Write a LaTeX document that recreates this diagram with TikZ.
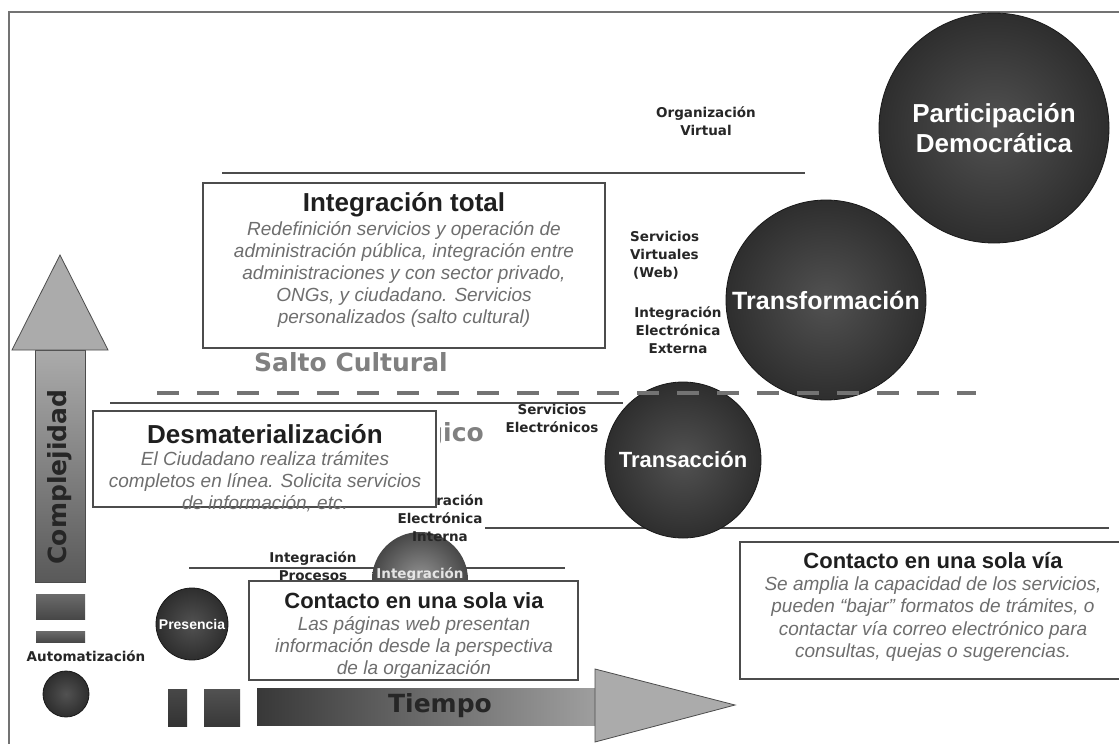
\documentclass[tikz,border=0pt]{standalone}
\usepackage{fontspec}
\setmainfont{Liberation Sans}
\newfontfamily\verd{DejaVu Sans}

\tikzset{
  frameline/.style={draw=black!55, line width=1.8pt},
  hline/.style={draw=black!70, line width=1.3pt},
  cutline/.style={draw=black!55, line width=4pt, dash pattern=on 22pt off 18pt},
  panel/.style={draw=black!70, fill=white, line width=1.4pt, inner sep=0pt},
  ttl/.style={font=\bfseries\fontsize{26}{30}\selectfont, text=black!88, inner sep=0pt},
  bodytxt/.style={font=\itshape\fontsize{19}{22}\selectfont, text=black!57, align=center, inner sep=0pt},
  lbl/.style={font=\verd\bfseries\fontsize{13.5}{18}\selectfont, text=black!85, align=center, inner sep=0pt},
  bigtxt/.style={font=\verd\bfseries\fontsize{25}{30}\selectfont, inner sep=0pt},
  disc/.style={circle, inner sep=0pt, draw=black!90, line width=0.8pt,
               inner color=black!68, outer color=black!82,
               text=white, align=center},
}

\begin{document}
\begin{tikzpicture}[x=1pt, y=-1pt]
  \useasboundingbox (0,0) rectangle (1119,744);
  \fill[white] (0,0) rectangle (1119,744);

  % frame
  \draw[frameline] (9,744) -- (9,12) -- (1119,12);

  % level lines
  \draw[hline] (222,173) -- (805,173);
  \draw[hline] (110,403) -- (623,403);
  \draw[hline] (485,528) -- (1109,528);
  \draw[hline] (189,568) -- (565,568);

  % stage labels
  \node[bigtxt, text=black!50] (saltocult) at (351,362) {Salto Cultural};
  \begin{scope}
    \clip (440,410) rectangle (500,460);
    \node[bigtxt, text=black!50, anchor=base east] (saltotec) at (484,441) {gico};
  \end{scope}
  \node[lbl] (orgvirt) at (706,121) {Organización\\Virtual};
  \node[lbl, align=left, anchor=west] (servvirt) at (630,255) {Servicios\\Virtuales\\\hspace{3pt}(Web)};
  \node[lbl] (intext) at (678,330) {Integración\\Electrónica\\Externa};
  \node[lbl] (servelec) at (552,418) {Servicios\\Electrónicos};
  \node[lbl] (intproc) at (313,566) {Integración\\Procesos};
  \node[lbl] (automat) at (86,656) {Automatización};

  % stages
  \node[disc, minimum size=230pt, font=\bfseries\fontsize{26}{30}\selectfont] (partic) at (994,128) {Participación\\Democrática};
  \node[disc, minimum size=200pt, font=\bfseries\fontsize{25}{30}\selectfont] (transf) at (826,300) {Transformación};
  \node[disc, minimum size=156pt, font=\bfseries\fontsize{22}{26}\selectfont] (transac) at (683,460) {Transacción};
  \node[circle, minimum size=96pt, inner color=black!42, outer color=black!72] (intsph) at (420,580) {};
  \node[lbl, text=black!10] (intsphlbl) at (420,575) {Integración};
  \node[lbl] (intint) at (440,518) {Integración\\Electrónica\\Interna};
  \node[disc, minimum size=72pt, font=\bfseries\fontsize{14}{16}\selectfont] (presen) at (192,624) {Presencia};
  \node[disc, minimum size=46pt] (autdot) at (66,694) {};

  % boxes
  \node[panel, minimum width=402pt, minimum height=165pt] (inttot) at (404,265.5) {};
  \node[ttl] (inttotttl) at (404,205) {Integración total};
  \node[bodytxt] (inttotbody) at (404,274) {Redefinición servicios y operación de\\
    administración pública, integración entre\\administraciones y con sector privado,\\
    ONGs, y ciudadano. Servicios\\personalizados (salto cultural)};

  \node[panel, minimum width=343pt, minimum height=96pt] (desmat) at (264.5,459) {};
  \node[ttl] (desmatttl) at (265,434) {Desmaterialización};
  \node[bodytxt] (desmatbody) at (265,482) {El Ciudadano realiza trámites\\
    completos en línea. Solicita servicios\\de información, etc.};

  \node[panel, minimum width=329pt, minimum height=99pt] (contizq) at (413.5,630.5) {};
  \node[ttl, font=\bfseries\fontsize{22}{26}\selectfont] (contizqttl) at (414,601) {Contacto en una sola via};
  \node[bodytxt] (contizqbody) at (414,647) {Las páginas web presentan\\
    información desde la perspectiva\\de la organización};

  \node[panel, minimum width=400pt, minimum height=137pt] (contder) at (940,610.5) {};
  \node[ttl, font=\bfseries\fontsize{22}{26}\selectfont] (contderttl) at (933,561) {Contacto en una sola vía};
  \node[bodytxt, font=\itshape\fontsize{19}{22.6}\selectfont] (contderbody) at (933,619) {Se amplia la capacidad de los servicios,\\
    pueden “bajar” formatos de trámites, o\\contactar vía correo electrónico para\\
    consultas, quejas o sugerencias.};

  % cultural jump
  \draw[cutline] (157,393) -- (976,393);

  % complexity axis
  \shade[top color=black!33, bottom color=black!65] (35,350) rectangle (85,582);
  \draw[black!70, line width=0.8pt] (35,350) rectangle (85,582);
  \filldraw[fill=black!33, draw=black!70, line width=0.8pt] (12,350) -- (60,255) -- (108,350) -- cycle;
  \node[bigtxt, rotate=90, text=black!85] (complej) at (60,477) {Complejidad};
  \shade[top color=black!58, bottom color=black!72] (36,594) rectangle (85,619);
  \shade[top color=black!58, bottom color=black!72] (36,631) rectangle (85,642);

  % time axis
  \shade[top color=black!72, bottom color=black!80] (168,689) rectangle (187,726);
  \shade[top color=black!68, bottom color=black!78] (204,689) rectangle (240,726);
  \shade[left color=black!78, right color=black!38] (257,688) rectangle (595,725);
  \filldraw[fill=black!33, draw=black!70, line width=0.8pt] (595,669) -- (735,705) -- (595,742) -- cycle;
  \node[bigtxt, text=black!85] (tiempo) at (440,706) {Tiempo};

\end{tikzpicture}
\end{document}
